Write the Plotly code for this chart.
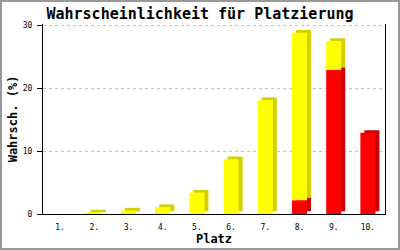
import plotly.graph_objects as go

categories = ["1.", "2.", "3.", "4.", "5.", "6.", "7.", "8.", "9.", "10."]
red_vals = [0, 0, 0, 0, 0, 0, 0, 2.2, 22.9, 12.9]
yellow_vals = [0, 0.25, 0.55, 1.1, 3.4, 8.7, 18.1, 26.6, 4.6, 0]
y_ticks = [0, 10, 20, 30]

W, H = 400, 250
ml, mr, mt, mb = 43, 15, 24, 36
pw, ph = W - ml - mr, H - mt - mb
y_top = 30.2

bar_w = 0.44
dx = 4 / (pw / len(categories))      # side depth in category units
dy = 2.7 / (ph / y_top)              # top depth in value units

yellow_base = [r for r in red_vals]

fig = go.Figure()
# shadows (3D side/top)
fig.add_trace(go.Bar(x=categories, y=red_vals, base=[dy] * len(categories),
                     width=bar_w, offset=-bar_w / 2 + dx,
                     marker=dict(color="#cc0000", line_width=0), hoverinfo="skip"))
fig.add_trace(go.Bar(x=categories, y=yellow_vals, base=[b + dy for b in yellow_base],
                     width=bar_w, offset=-bar_w / 2 + dx,
                     marker=dict(color="#d2d000", line_width=0), hoverinfo="skip"))
# front faces
fig.add_trace(go.Bar(x=categories, y=red_vals, base=[0] * len(categories),
                     width=bar_w, offset=-bar_w / 2,
                     marker=dict(color="#ff0000", line_width=0)))
fig.add_trace(go.Bar(x=categories, y=yellow_vals, base=yellow_base,
                     width=bar_w, offset=-bar_w / 2,
                     marker=dict(color="#ffff00", line_width=0)))

mono = "DejaVu Sans Mono"
fig.update_layout(
    width=W, height=H,
    margin=dict(l=ml, r=mr, t=mt, b=mb, autoexpand=False),
    paper_bgcolor="white", plot_bgcolor="white",
    barmode="overlay", showlegend=False,
    title=dict(text="<b>Wahrscheinlichkeit für Platzierung</b>",
               font=dict(family=mono, size=15, color="black"),
               x=0.5, xanchor="center", y=1 - 14 / H, yanchor="middle"),
    font=dict(family=mono, size=8, color="black"),
    xaxis=dict(showgrid=False, showline=True, linecolor="black", linewidth=1,
               ticks="", tickfont=dict(family=mono, size=8), ticklabelstandoff=5,
               automargin=False,
               title=dict(text="<b>Platz</b>", font=dict(family=mono, size=12), standoff=4),
               range=[-0.5, 9.5], zeroline=False),
    yaxis=dict(range=[0, y_top], tickvals=y_ticks, ticktext=[str(v) for v in y_ticks],
               showgrid=True, gridcolor="#c0c0c0", griddash="3px,3px", gridwidth=1,
               showline=True, linecolor="black", linewidth=1, mirror=True,
               ticks="outside", ticklen=5, tickcolor="black", tickwidth=1,
               tickfont=dict(family=mono, size=8), zeroline=False, ticklabelstandoff=3,
               automargin=False,
               title=dict(text="<b>Wahrsch. (%)</b>", font=dict(family=mono, size=12), standoff=2)),
    shapes=[dict(type="rect", xref="paper", yref="paper",
                 x0=(1 - ml) / pw, x1=1 + (mr - 1) / pw,
                 y0=-(mb - 1) / ph, y1=1 + (mt - 1) / ph,
                 line=dict(color="#999999", width=2), layer="above")],
)

fig.write_html("out.html")
